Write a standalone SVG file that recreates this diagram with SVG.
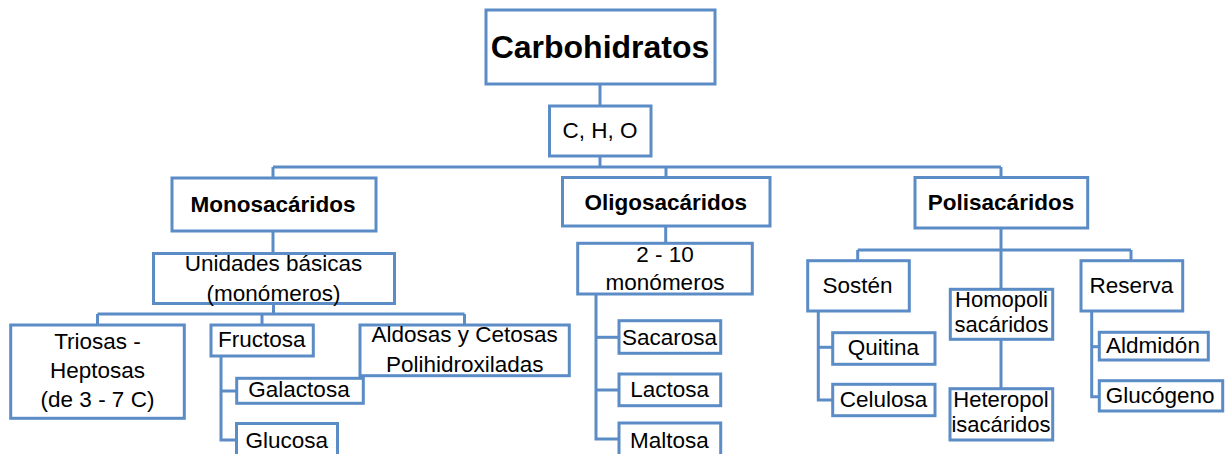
<svg xmlns="http://www.w3.org/2000/svg" width="1226" height="454" viewBox="0 0 1226 454">
  <style>
    .box { fill: #ffffff; stroke: #5b8cc6; stroke-width: 3; }
    .link { fill: none; stroke: #5b8cc6; stroke-width: 3; }
    text { font-family: "Liberation Sans", Arial, sans-serif; fill: #000000; text-anchor: middle; }
    .t { font-size: 22.5px; }
    .s { font-size: 22px; }
    .b { font-size: 22.5px; font-weight: bold; }
    .title { font-size: 32px; font-weight: bold; }
  </style>
  <rect width="1226" height="454" fill="#ffffff"/>

  <!-- connectors -->
  <g id="connectors" class="link">
    <path d="M600,84 V106"/>
    <path d="M600,156 V167"/>
    <path d="M273,167 H1001"/>
    <path d="M273,167 V178"/>
    <path d="M666,167 V177.5"/>
    <path d="M1001,167 V177.5"/>
    <path d="M273,231 V253.5"/>
    <path d="M273.5,303.5 V314"/>
    <path d="M97.5,314 H464.5"/>
    <path d="M97.5,314 V325"/>
    <path d="M262,314 V325"/>
    <path d="M464.5,314 V325"/>
    <path d="M221,356 V440 H236.5"/>
    <path d="M221,391 H236.7"/>
    <path d="M665.7,226 V243.3"/>
    <path d="M596,294 V439 H619"/>
    <path d="M596,337.3 H619"/>
    <path d="M596,390 H619"/>
    <path d="M1001,228 V250"/>
    <path d="M857.7,250 H1131"/>
    <path d="M857.7,250 V260.7"/>
    <path d="M1131,250 V260.7"/>
    <path d="M1001,250 V289.3"/>
    <path d="M1001,339.3 V388.7"/>
    <path d="M818.3,311 V400 H832.7"/>
    <path d="M818.3,347.3 H832.7"/>
    <path d="M1091.7,311 V396.7 H1099.3"/>
    <path d="M1091.7,346.7 H1099.3"/>
  </g>

  <!-- root -->
  <g id="carbohidratos">
    <rect class="box" x="486" y="10" width="229" height="74"/>
    <text class="title" x="600" y="58">Carbohidratos</text>
  </g>
  <g id="cho">
    <rect class="box" x="549.5" y="106" width="101.5" height="50"/>
    <text class="t" x="600" y="138">C, H, O</text>
  </g>

  <!-- main groups -->
  <g id="monosacaridos">
    <rect class="box" x="172" y="178" width="204" height="53"/>
    <text class="b" x="273" y="211.5">Monosacáridos</text>
  </g>
  <g id="oligosacaridos">
    <rect class="box" x="562.5" y="177.5" width="207.5" height="48.5"/>
    <text class="b" x="665.7" y="210">Oligosacáridos</text>
  </g>
  <g id="polisacaridos">
    <rect class="box" x="915" y="177.5" width="172.7" height="50.5"/>
    <text class="b" x="1001" y="210">Polisacáridos</text>
  </g>

  <!-- monosaccharide branch -->
  <g id="unidades">
    <rect class="box" x="153.5" y="253.5" width="241" height="50"/>
    <text class="t" x="273.5" y="270.7">Unidades básicas</text>
    <text class="t" x="273.5" y="300.7">(monómeros)</text>
  </g>
  <g id="triosas">
    <rect class="box" x="10.7" y="325" width="173.6" height="93.3"/>
    <text class="t" x="97.5" y="349.3">Triosas -</text>
    <text class="t" x="97.5" y="378.3">Heptosas</text>
    <text class="t" x="97.5" y="406.7">(de 3 - 7 C)</text>
  </g>
  <g id="fructosa">
    <rect class="box" x="211" y="325" width="102.3" height="31"/>
    <text class="t" x="261.7" y="347.3">Fructosa</text>
  </g>
  <g id="aldosas">
    <rect class="box" x="360" y="325" width="209.3" height="50.7"/>
    <text class="t" x="464.7" y="341.7">Aldosas y Cetosas</text>
    <text class="t" x="464.7" y="371.7">Polihidroxiladas</text>
  </g>
  <g id="galactosa">
    <rect class="box" x="236.7" y="378.3" width="126.6" height="25"/>
    <text class="t" x="299" y="396.7">Galactosa</text>
  </g>
  <g id="glucosa">
    <rect class="box" x="236.5" y="423.5" width="101" height="40"/>
    <text class="t" x="286.7" y="448">Glucosa</text>
  </g>

  <!-- oligosaccharide branch -->
  <g id="monomeros">
    <rect class="box" x="577.7" y="243.3" width="174.6" height="50.7"/>
    <text class="t" x="665" y="261.7">2 - 10</text>
    <text class="t" x="665" y="290">monómeros</text>
  </g>
  <g id="sacarosa">
    <rect class="box" x="619" y="320.7" width="101.7" height="32.6"/>
    <text class="t" x="669.5" y="345">Sacarosa</text>
  </g>
  <g id="lactosa">
    <rect class="box" x="619" y="374" width="101.7" height="31.7"/>
    <text class="t" x="669.7" y="396.7">Lactosa</text>
  </g>
  <g id="maltosa">
    <rect class="box" x="619" y="423" width="101.7" height="40"/>
    <text class="t" x="669.5" y="448">Maltosa</text>
  </g>

  <!-- polysaccharide branch -->
  <g id="sosten">
    <rect class="box" x="807.7" y="260.7" width="101.6" height="50.3"/>
    <text class="t" x="857.5" y="293.3">Sostén</text>
  </g>
  <g id="homopolisacaridos">
    <rect class="box" x="950.3" y="289.3" width="102.4" height="50"/>
    <text class="s" x="1001.5" y="306.7">Homopoli</text>
    <text class="s" x="1001.5" y="331.7">sacáridos</text>
  </g>
  <g id="heteropolisacaridos">
    <rect class="box" x="950" y="388.7" width="102.7" height="51.3"/>
    <text class="s" x="1001" y="406.7">Heteropol</text>
    <text class="s" x="1001" y="431.7">isacáridos</text>
  </g>
  <g id="reserva">
    <rect class="box" x="1081" y="260.7" width="101.7" height="50.3"/>
    <text class="t" x="1131.5" y="293">Reserva</text>
  </g>
  <g id="quitina">
    <rect class="box" x="832.7" y="332.7" width="102.3" height="31.6"/>
    <text class="t" x="883.5" y="355">Quitina</text>
  </g>
  <g id="celulosa">
    <rect class="box" x="832.7" y="384.3" width="102.3" height="31.4"/>
    <text class="t" x="883.5" y="406.7">Celulosa</text>
  </g>
  <g id="almidon">
    <rect class="box" x="1099.3" y="332.3" width="109" height="27.7"/>
    <text class="t" x="1153" y="353.3">Aldmidón</text>
  </g>
  <g id="glucogeno">
    <rect class="box" x="1099.3" y="380.7" width="123.4" height="30.3"/>
    <text class="t" x="1160.2" y="403.3">Glucógeno</text>
  </g>
</svg>
